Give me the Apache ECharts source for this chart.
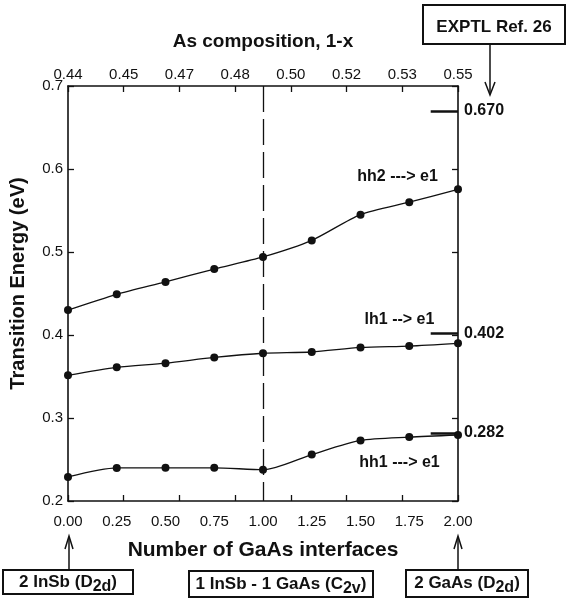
<!DOCTYPE html>
<html>
<head>
<meta charset="utf-8">
<title>Transition energies vs GaAs interfaces</title>
<script src="https://cdn.jsdelivr.net/npm/echarts@6/dist/echarts.min.js"></script>
<style>
  html, body { margin: 0; padding: 0; background: #fff; }
  #chart { width: 566px; height: 601px; }
</style>
</head>
<body>
<div id="chart"></div>
<script>
// Number of GaAs interfaces (bottom axis categories)
const interfaces = [0, 0.25, 0.5, 0.75, 1.0, 1.25, 1.5, 1.75, 2.0];
// Calculated transition energies (eV)
const hh2e1 = [0.430, 0.449, 0.464, 0.4795, 0.494, 0.514, 0.545, 0.560, 0.5755];
const lh1e1 = [0.3514, 0.361, 0.366, 0.373, 0.378, 0.3795, 0.385, 0.3867, 0.390];
const hh1e1 = [0.229, 0.2398, 0.240, 0.240, 0.2377, 0.256, 0.273, 0.277, 0.2795];
// Experimental values (Ref. 26)
const exptlValues = [0.670, 0.402, 0.282];
// Top axis: As composition 1-x
const compositionTicks = ['0.44', '0.45', '0.47', '0.48', '0.50', '0.52', '0.53', '0.55'];
const transitionNames = ['hh2 ---> e1', 'lh1 --> e1', 'hh1 ---> e1'];

const FONT = '"Liberation Sans", Arial, Helvetica, sans-serif';
const INK = '#111';

// where each transition name sits (data coordinates)
const nameAnchors = [[1.69, 0.591], [1.70, 0.419], [1.70, 0.246]];
const refStartX = 1.86;

const chart = echarts.init(document.getElementById('chart'), null, { renderer: 'canvas' });

const gridRect = { left: 68, right: 108, top: 86, bottom: 100 };

function curve(name, values, idx, extra) {
  const s = {
    name: name,
    type: 'line',
    xAxisIndex: 0,
    yAxisIndex: 0,
    data: interfaces.map((x, i) => [x, values[i]]),
    smooth: 0.25,
    symbol: 'circle',
    symbolSize: 8,
    lineStyle: { color: INK, width: 1.3 },
    itemStyle: { color: INK },
    z: 3,
    markPoint: {
      symbol: 'rect',
      symbolSize: 1,
      itemStyle: { color: 'rgba(0,0,0,0)' },
      label: {
        show: true, position: 'inside', formatter: name,
        color: INK, fontFamily: FONT, fontWeight: 'bold', fontSize: 16
      },
      data: [{ coord: nameAnchors[idx] }]
    },
    markLine: {
      silent: true,
      symbol: ['none', 'none'],
      animation: false,
      lineStyle: { color: INK, width: 2.5, type: 'solid' },
      label: {
        show: true, position: 'end', distance: 6,
        formatter: exptlValues[idx].toFixed(3),
        color: INK, fontFamily: FONT, fontWeight: 'bold', fontSize: 16
      },
      data: [[{ coord: [refStartX, exptlValues[idx]] }, { coord: [2, exptlValues[idx]] }]]
    }
  };
  if (extra) extra(s);
  return s;
}

const series = [
  curve(transitionNames[0], hh2e1, 0, s => {
    // dashed separator at one GaAs interface
    s.markLine.data.push({
      xAxis: 1,
      lineStyle: { color: INK, width: 1.3, type: [26, 7], dashOffset: 7 },
      label: { show: false }
    });
  }),
  curve(transitionNames[1], lh1e1, 1),
  curve(transitionNames[2], hh1e1, 2)
];

// every axis stays on its own grid edge (no zero-crossing placement)
const axisLine = { show: true, onZero: false, lineStyle: { color: INK, width: 1.6 } };
const tickInside = { show: true, inside: true, length: 6, lineStyle: { color: INK, width: 1.3 } };
const labelStyle = { color: INK, fontFamily: FONT, fontSize: 15 };
const nameStyle = { color: INK, fontFamily: FONT, fontWeight: 'bold' };

chart.setOption({
  animation: false,
  backgroundColor: '#fff',
  grid: [
    Object.assign({ containLabel: false }, gridRect),
    Object.assign({ containLabel: false }, gridRect)
  ],
  xAxis: [
    {
      gridIndex: 0, type: 'value', position: 'bottom',
      min: 0, max: 2, interval: 0.25,
      axisLine: axisLine,
      axisTick: { show: false },
      splitLine: { show: false },
      axisLabel: Object.assign({ margin: 13, showMinLabel: true, showMaxLabel: true,
        formatter: v => v.toFixed(2) }, labelStyle),
      name: 'Number of GaAs interfaces',
      nameLocation: 'middle', nameGap: 39,
      nameTextStyle: Object.assign({ fontSize: 21 }, nameStyle)
    },
    {
      gridIndex: 0, type: 'value', position: 'top',
      min: 0, max: 7, interval: 1,
      axisLine: axisLine,
      axisTick: tickInside,
      splitLine: { show: false },
      axisLabel: Object.assign({ margin: 4, showMinLabel: true, showMaxLabel: true,
        formatter: v => compositionTicks[v] }, labelStyle),
      name: 'As composition, 1-x',
      nameLocation: 'middle', nameGap: 35,
      nameTextStyle: Object.assign({ fontSize: 19 }, nameStyle)
    },
    {
      gridIndex: 1, type: 'value', position: 'bottom',
      min: 0, max: 7, interval: 1,
      axisLine: { show: false, onZero: false },
      axisTick: tickInside,
      splitLine: { show: false },
      axisLabel: { show: false }
    }
  ],
  yAxis: [
    {
      gridIndex: 0, type: 'value', position: 'left',
      min: 0.2, max: 0.7, interval: 0.1,
      axisLine: axisLine,
      axisTick: tickInside,
      splitLine: { show: false },
      axisLabel: Object.assign({ margin: 5, showMinLabel: true, showMaxLabel: true,
        formatter: v => v.toFixed(1) }, labelStyle),
      name: 'Transition Energy (eV)',
      nameLocation: 'middle', nameGap: 40,
      nameTextStyle: Object.assign({ fontSize: 20, padding: [0, 0, 0, 20] }, nameStyle)
    },
    {
      gridIndex: 1, type: 'value', position: 'right',
      min: 0.2, max: 0.7, interval: 0.1,
      axisLine: axisLine,
      axisTick: tickInside,
      splitLine: { show: false },
      axisLabel: { show: false }
    }
  ],
  series: series
});

// Structure annotation boxes with arrows pointing at their interface counts
const boxFont = { fontFamily: FONT, fontWeight: 'bold', fontSize: 17, fill: INK };
function richText(main, sub, tail) {
  return '{m|' + main + '}{s|' + sub + '}{m|' + tail + '}';
}
const rich = {
  m: { fontFamily: FONT, fontWeight: 'bold', fontSize: 17, color: INK },
  s: { fontFamily: FONT, fontWeight: 'bold', fontSize: 16, color: INK, padding: [9, 0, 0, 0] }
};

function box(x, y, w, h, text, cx, cy) {
  return [
    { type: 'rect', shape: { x: x, y: y, width: w, height: h },
      style: { fill: '#fff', stroke: INK, lineWidth: 2 }, z: 10 },
    { type: 'text', x: cx, y: cy, z: 11,
      style: Object.assign({ text: text, rich: rich, align: 'center', verticalAlign: 'middle' }, boxFont) }
  ];
}
function upArrow(px, yTop, yBottom) {
  return [
    { type: 'line', shape: { x1: px, y1: yBottom, x2: px, y2: yTop + 1 },
      style: { stroke: INK, lineWidth: 1.5 }, z: 10 },
    { type: 'polyline', shape: { points: [[px - 4, yTop + 13], [px, yTop], [px + 4, yTop + 13]] },
      style: { stroke: INK, lineWidth: 1.5, fill: null }, z: 10 }
  ];
}
function downArrow(px, yTop, yBottom) {
  return [
    { type: 'line', shape: { x1: px, y1: yTop, x2: px, y2: yBottom - 1 },
      style: { stroke: INK, lineWidth: 1.5 }, z: 10 },
    { type: 'polyline', shape: { points: [[px - 5, yBottom - 13], [px, yBottom], [px + 5, yBottom - 13]] },
      style: { stroke: INK, lineWidth: 1.5, fill: null }, z: 10 }
  ];
}

const x0 = chart.convertToPixel({ xAxisIndex: 0 }, 0);
const x2 = chart.convertToPixel({ xAxisIndex: 0 }, 2);

const graphic = []
  .concat(box(3, 570, 130, 24, richText('2 InSb (D', '2d', ')'), 68, 582))
  .concat(box(189, 571, 184, 26, richText('1 InSb - 1 GaAs (C', '2v', ')'), 281, 584))
  .concat(box(406, 570, 122, 27, richText('2 GaAs (D', '2d', ')'), 467, 583))
  .concat(upArrow(x0 + 1, 536, 570))
  .concat(upArrow(x2, 536, 570))
  .concat([
    { type: 'rect', shape: { x: 423, y: 5, width: 142, height: 39 },
      style: { fill: '#fff', stroke: INK, lineWidth: 2 }, z: 10 },
    { type: 'text', x: 494, y: 27, z: 11,
      style: Object.assign({ text: 'EXPTL Ref. 26', align: 'center', verticalAlign: 'middle' },
        boxFont, { fontSize: 17 }) }
  ])
  .concat(downArrow(490, 44, 95));

chart.setOption({ graphic: graphic });
</script>
</body>
</html>
